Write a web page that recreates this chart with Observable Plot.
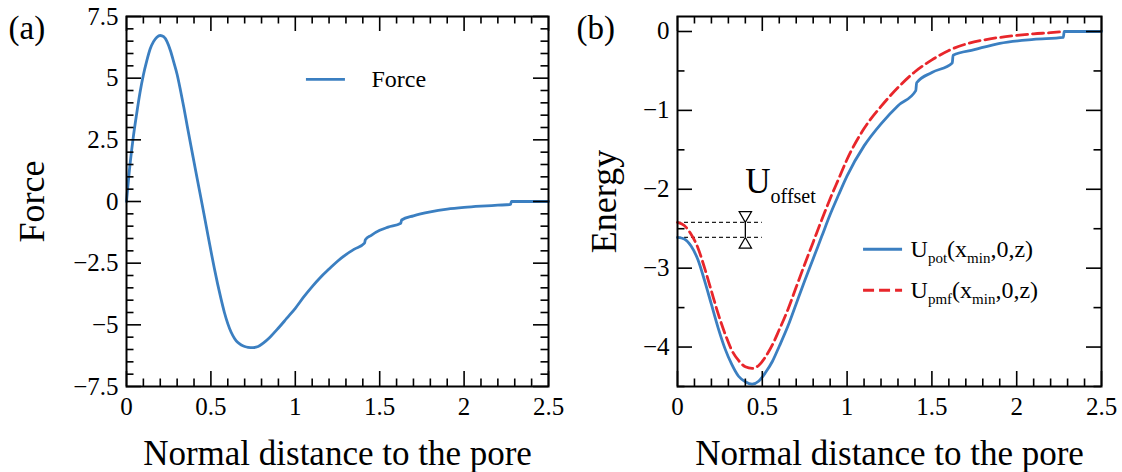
<!DOCTYPE html>
<html><head><meta charset="utf-8">
<script src="https://cdn.jsdelivr.net/npm/d3@7"></script>
<script src="https://cdn.jsdelivr.net/npm/@observablehq/plot@0.6"></script>
<style>
body{margin:0;background:#fff;}
#wrap{display:flex;width:1122px;height:472px;overflow:hidden;background:#fff;}
</style></head><body><div id="wrap"></div>
<script>
// ---------- data ----------
const forceX = [0,0.02,0.04,0.06,0.08,0.10,0.12,0.14,0.16,0.18,0.20,0.22,0.24,0.26,0.28,0.30,0.32,0.34,0.36,0.38,0.40,0.42,0.44,0.46,0.48,0.50,0.52,0.54,0.56,0.58,0.60,0.62,0.64,0.66,0.68,0.70,0.72,0.75,0.78,0.81,0.85,0.90,0.95,1.0,1.05,1.1,1.15,1.2,1.25,1.3,1.35,1.41,1.415,1.45,1.5,1.55,1.625,1.63,1.7,1.8,1.9,2.0,2.1,2.2,2.275,2.28,2.5];
const forceY = [0,1.45,2.6,3.55,4.42,5.13,5.7,6.18,6.48,6.66,6.73,6.68,6.48,6.12,5.65,5.15,4.5,3.8,3.05,2.32,1.6,0.88,0.17,-0.55,-1.28,-2.0,-2.7,-3.35,-3.95,-4.5,-4.95,-5.3,-5.55,-5.72,-5.82,-5.88,-5.91,-5.92,-5.88,-5.74,-5.5,-5.13,-4.73,-4.33,-3.87,-3.45,-3.07,-2.74,-2.42,-2.15,-1.93,-1.69,-1.55,-1.37,-1.17,-1.04,-0.88,-0.75,-0.58,-0.42,-0.31,-0.24,-0.19,-0.15,-0.12,0,0];

const potX = [0,0.04,0.08,0.12,0.16,0.20,0.24,0.28,0.32,0.36,0.40,0.44,0.48,0.52,0.56,0.60,0.65,0.70,0.75,0.80,0.85,0.90,0.95,1.0,1.1,1.2,1.3,1.405,1.41,1.5,1.62,1.625,1.75,1.9,2.1,2.275,2.28,2.5];
const potE = [-2.61,-2.63,-2.72,-2.89,-3.16,-3.46,-3.76,-4.02,-4.22,-4.37,-4.44,-4.47,-4.43,-4.32,-4.18,-3.99,-3.74,-3.45,-3.16,-2.88,-2.6,-2.32,-2.07,-1.83,-1.45,-1.17,-0.94,-0.75,-0.65,-0.52,-0.40,-0.30,-0.23,-0.15,-0.10,-0.075,0,0];

const pmfX = [0,0.04,0.08,0.12,0.16,0.20,0.24,0.28,0.32,0.36,0.40,0.44,0.48,0.52,0.56,0.60,0.65,0.70,0.75,0.80,0.85,0.90,0.95,1.0,1.1,1.2,1.3,1.4,1.5,1.6,1.7,1.8,1.9,2.0,2.1,2.2,2.28];
const pmfE = [-2.42,-2.46,-2.57,-2.74,-3.0,-3.29,-3.58,-3.83,-4.04,-4.17,-4.25,-4.27,-4.23,-4.12,-3.97,-3.78,-3.53,-3.24,-2.95,-2.67,-2.39,-2.12,-1.87,-1.62,-1.23,-0.95,-0.71,-0.51,-0.36,-0.24,-0.16,-0.11,-0.075,-0.05,-0.03,-0.015,0];

const xMajor = [0,0.5,1,1.5,2,2.5];
const xMinor = [0.1,0.2,0.3,0.4,0.6,0.7,0.8,0.9,1.1,1.2,1.3,1.4,1.6,1.7,1.8,1.9,2.1,2.2,2.3,2.4];
const forceMajor = [-7.5,-5,-2.5,0,2.5,5,7.5];
const forceMinor = [-7,-6.5,-6,-5.5,-4.5,-4,-3.5,-3,-2,-1.5,-1,-0.5,0.5,1,1.5,2,3,3.5,4,4.5,5.5,6,6.5,7];
const energyMajor = [-4,-3,-2,-1,0];
const energyMinor = [-4.5,-3.5,-2.5,-1.5,-0.5];
const markerX = 0.4;

const blue = "#3b7fc1", red = "#e8262b";
const FONT = "'Liberation Serif','Times New Roman',serif";
const H = 472, MT = 16, MB = 86;
const fmt = d => String(d).replace("-", "\u2212");

function frameTicks(innerW, innerH, yMajor, yMinor) {
  const k = {stroke: "#000", strokeWidth: 1.6};
  const L = 15, S = 7.5;
  return [
    Plot.ruleX(xMajor, {x: d => d, insetTop: innerH - L, ...k}),
    Plot.ruleX(xMajor, {x: d => d, insetBottom: innerH - L, ...k}),
    Plot.ruleX(xMinor, {x: d => d, insetTop: innerH - S, ...k}),
    Plot.ruleX(xMinor, {x: d => d, insetBottom: innerH - S, ...k}),
    Plot.ruleY(yMajor, {y: d => d, insetRight: innerW - L, ...k}),
    Plot.ruleY(yMajor, {y: d => d, insetLeft: innerW - L, ...k}),
    Plot.ruleY(yMinor, {y: d => d, insetRight: innerW - S, ...k}),
    Plot.ruleY(yMinor, {y: d => d, insetLeft: innerW - S, ...k}),
    Plot.frame({stroke: "#000", strokeWidth: 2}),
    Plot.axisX(xMajor, {tickSize: 0, tickPadding: 11, fontSize: 25, label: null, tickFormat: fmt}),
    Plot.axisY(yMajor, {tickSize: 0, tickPadding: 8, fontSize: 25, label: null, tickFormat: fmt}),
    Plot.text(["Normal distance to the pore"], {text: d => d, frameAnchor: "bottom", textAnchor: "middle", lineAnchor: "bottom", dy: 78, fontSize: 35})
  ];
}

function applySubs(svg) {
  d3.select(svg).selectAll("text").each(function () {
    const t = this.textContent;
    if (!t.includes("_{")) return;
    const g = this.closest("g");
    const subSize = +g.getAttribute("data-sub") || 15;
    const shift = +g.getAttribute("data-shift") || 6;
    const parts = [];
    const re = /([^_]+)|_\{([^}]*)\}/g;
    let m;
    while ((m = re.exec(t))) parts.push(m[1] !== undefined ? [m[1], false] : [m[2], true]);
    this.textContent = "";
    let down = false;
    for (const [s, sub] of parts) {
      const ts = document.createElementNS("http://www.w3.org/2000/svg", "tspan");
      ts.textContent = s;
      if (sub && !down) { ts.setAttribute("dy", shift); down = true; }
      else if (!sub && down) { ts.setAttribute("dy", -shift); down = false; }
      if (sub) ts.setAttribute("font-size", subSize);
      this.appendChild(ts);
    }
  });
}
function tagSubs(svg, cls, sub, shift) {
  d3.select(svg).selectAll("g." + cls).attr("data-sub", sub).attr("data-shift", shift);
}

const baseStyle = {fontFamily: FONT, fontSize: "25px", color: "#000", background: "transparent", overflow: "visible"};

// ---------- panel (a) ----------
const wA = 561, mlA = 126, mrA = 13;
const forceData = forceX.map((x, i) => ({x, y: forceY[i]}));
const plotA = Plot.plot({
  width: wA, height: H, marginLeft: mlA, marginRight: mrA, marginTop: MT, marginBottom: MB,
  style: baseStyle,
  x: {domain: [0, 2.5]}, y: {domain: [-7.5, 7.5]},
  marks: [
    Plot.line(forceData, {x: "x", y: "y", stroke: blue, strokeWidth: 2.8, curve: "monotone-x"}),
    Plot.ruleY([4.95], {y: d => d, x1: 1.066, x2: 1.297, stroke: blue, strokeWidth: 2.8}),
    Plot.text(["Force"], {text: d => d, x: 1.451, y: 4.95, textAnchor: "start", lineAnchor: "middle", fontSize: 24}),
    ...frameTicks(wA - mlA - mrA, H - MT - MB, forceMajor, forceMinor),
    Plot.text(["Force"], {text: d => d, frameAnchor: "left", dx: -94, rotate: -90, textAnchor: "middle", lineAnchor: "middle", fontSize: 36}),
    Plot.text(["(a)"], {text: d => d, frameAnchor: "top-left", dx: -118, dy: -1, textAnchor: "start", lineAnchor: "top", fontSize: 33})
  ]
});

// ---------- panel (b) ----------
const wB = 561, mlB = 116, mrB = 21;
const potData = potX.map((x, i) => ({x, y: potE[i]}));
const pmfData = pmfX.map((x, i) => ({x, y: pmfE[i]}));
const plotB = Plot.plot({
  width: wB, height: H, marginLeft: mlB, marginRight: mrB, marginTop: MT, marginBottom: MB,
  style: baseStyle,
  x: {domain: [0, 2.5]}, y: {domain: [-4.5, 0.19]},
  marks: [
    Plot.ruleY([pmfE[0], potE[0]], {y: d => d, x1: 0, x2: 0.5, stroke: "#222", strokeWidth: 1.2, strokeDasharray: "4,3"}),
    Plot.ruleX([markerX], {x: d => d, y1: potE[0], y2: pmfE[0], stroke: "#000", strokeWidth: 1.3}),
    Plot.dot([pmfE[0]], {x: markerX, y: d => d, symbol: "triangle", rotate: 180, dy: -7.2, r: 4.6, fill: "#fff", stroke: "#000", strokeWidth: 1.2}),
    Plot.dot([potE[0]], {x: markerX, y: d => d, symbol: "triangle", dy: 7.2, r: 4.6, fill: "#fff", stroke: "#000", strokeWidth: 1.2}),
    Plot.text(["U_{offset}"], {text: d => d, x: markerX, y: -2.05, textAnchor: "start", lineAnchor: "bottom", fontSize: 35, className: "sub-off"}),
    Plot.line(pmfData, {x: "x", y: "y", stroke: red, strokeWidth: 2.8, strokeDasharray: "11,5", curve: "monotone-x"}),
    Plot.line(potData, {x: "x", y: "y", stroke: blue, strokeWidth: 2.8, curve: "monotone-x"}),
    Plot.ruleY([-2.76], {y: d => d, x1: 1.097, x2: 1.327, stroke: blue, strokeWidth: 2.8}),
    Plot.ruleY([-3.28], {y: d => d, x1: 1.097, x2: 1.327, stroke: red, strokeWidth: 2.8, strokeDasharray: "11,5"}),
    Plot.text(["U_{pot}(x_{min},0,z)"], {text: d => d, x: 1.327, y: -2.76, dx: 8, textAnchor: "start", lineAnchor: "middle", fontSize: 24, className: "sub-leg"}),
    Plot.text(["U_{pmf}(x_{min},0,z)"], {text: d => d, x: 1.327, y: -3.28, dx: 8, textAnchor: "start", lineAnchor: "middle", fontSize: 24, className: "sub-leg"}),
    ...frameTicks(wB - mlB - mrB, H - MT - MB, energyMajor, energyMinor),
    Plot.text(["Energy"], {text: d => d, frameAnchor: "left", dx: -73, rotate: -90, textAnchor: "middle", lineAnchor: "middle", fontSize: 36}),
    Plot.text(["(b)"], {text: d => d, frameAnchor: "top-left", dx: -101, dy: -1, textAnchor: "start", lineAnchor: "top", fontSize: 33})
  ]
});
tagSubs(plotB, "sub-off", 20, 10);
tagSubs(plotB, "sub-leg", 15, 6);
applySubs(plotB);

document.getElementById("wrap").append(plotA, plotB);
</script></body></html>
